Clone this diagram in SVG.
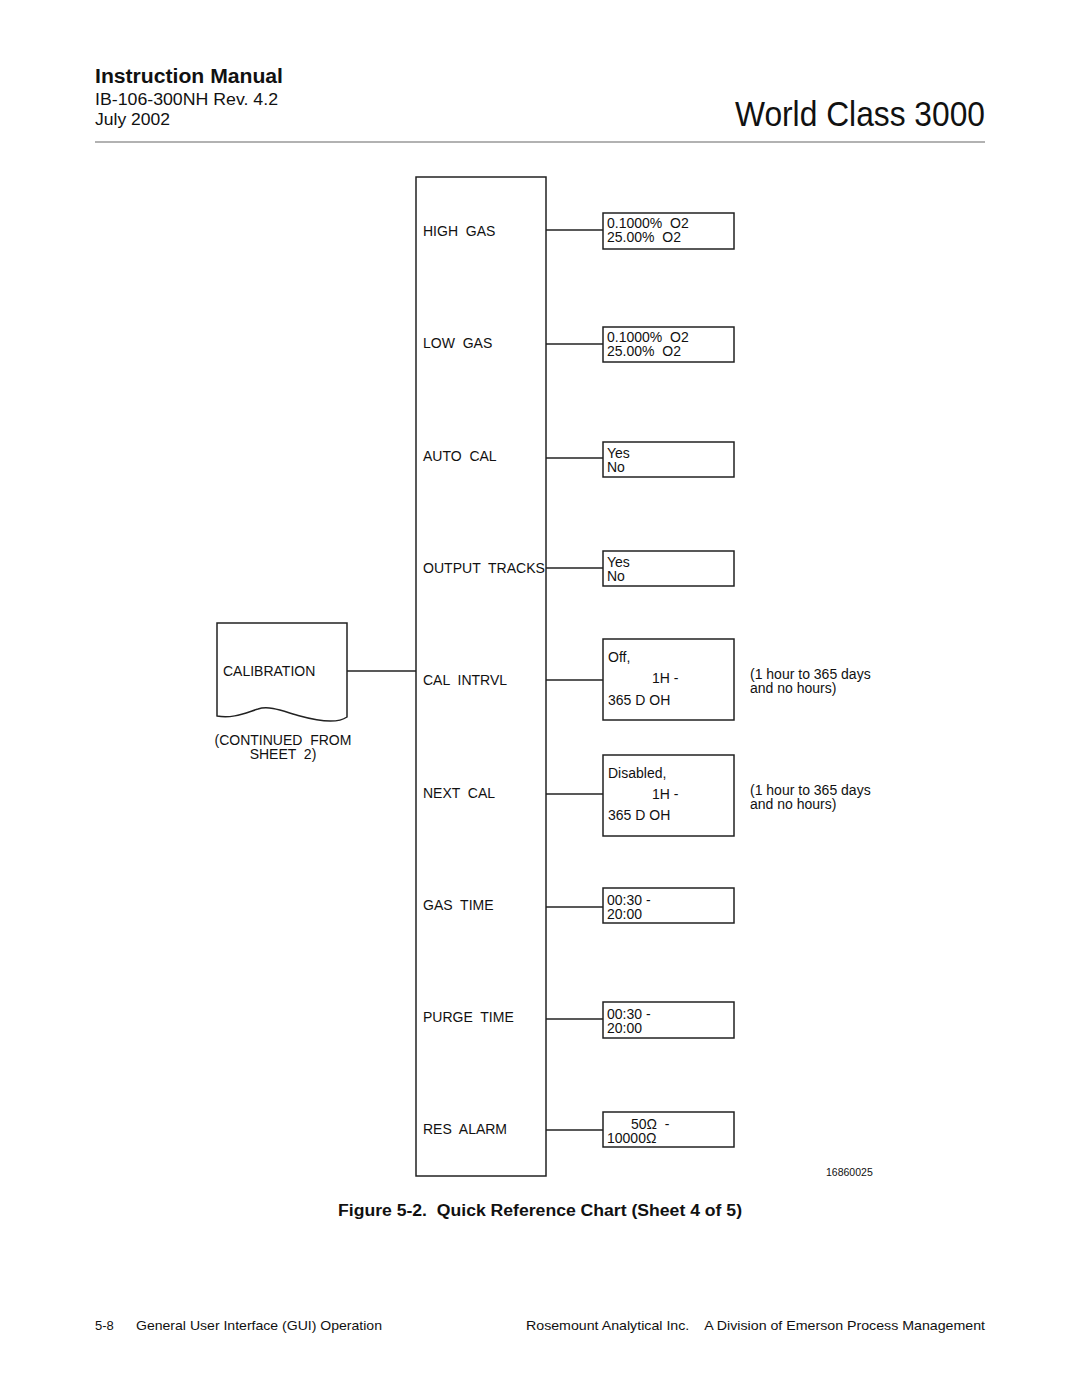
<svg xmlns="http://www.w3.org/2000/svg" width="1080" height="1397" viewBox="0 0 1080 1397">
<style>
text{font-family:"Liberation Sans",Arial,sans-serif;fill:#111;white-space:pre}
.lbl{font-size:14px}
.val{font-size:14px}
.note{font-size:14px}
.box{fill:#fff;stroke:#222;stroke-width:1.5}
.conn{stroke:#222;stroke-width:1.3;fill:none}
</style>
<rect width="1080" height="1397" fill="#fff"/>
<g id="header">
<text x="95" y="83" font-size="20" font-weight="bold" textLength="188" lengthAdjust="spacingAndGlyphs">Instruction Manual</text>
<text x="95" y="105" font-size="16" textLength="183" lengthAdjust="spacingAndGlyphs">IB-106-300NH Rev. 4.2</text>
<text x="95" y="125" font-size="16" textLength="75" lengthAdjust="spacingAndGlyphs">July 2002</text>
<text x="735" y="126" font-size="35" textLength="250" lengthAdjust="spacingAndGlyphs">World Class 3000</text>
<line x1="95" y1="142" x2="985" y2="142" stroke="#666" stroke-width="1.2"/>
</g>
<g id="connectors">
<line class="conn" x1="347" y1="671" x2="416" y2="671"/>
<line class="conn" x1="546" y1="230" x2="603" y2="230"/>
<line class="conn" x1="546" y1="344" x2="603" y2="344"/>
<line class="conn" x1="546" y1="458" x2="603" y2="458"/>
<line class="conn" x1="546" y1="568" x2="603" y2="568"/>
<line class="conn" x1="546" y1="680" x2="603" y2="680"/>
<line class="conn" x1="546" y1="794" x2="603" y2="794"/>
<line class="conn" x1="546" y1="907" x2="603" y2="907"/>
<line class="conn" x1="546" y1="1019" x2="603" y2="1019"/>
<line class="conn" x1="546" y1="1130" x2="603" y2="1130"/>
</g>
<g id="calibration">
<path class="box" d="M217,623 H347 V717 C337,724 318,721 300,716 C285,712 270,705 258,709 C245,713 232,719 217,716 Z"/>
<text class="lbl" x="223" y="676" font-size="13.5">CALIBRATION</text>
<text class="lbl" x="283" y="745" text-anchor="middle">(CONTINUED  FROM</text>
<text class="lbl" x="283" y="759" text-anchor="middle">SHEET  2)</text>
</g>
<g id="menu">
<rect class="box" x="416" y="177" width="130" height="999"/>
<text class="lbl" x="423" y="236">HIGH  GAS</text>
<text class="lbl" x="423" y="348">LOW  GAS</text>
<text class="lbl" x="423" y="461">AUTO  CAL</text>
<text class="lbl" x="423" y="573" textLength="122" lengthAdjust="spacingAndGlyphs">OUTPUT  TRACKS</text>
<text class="lbl" x="423" y="685">CAL  INTRVL</text>
<text class="lbl" x="423" y="798">NEXT  CAL</text>
<text class="lbl" x="423" y="910">GAS  TIME</text>
<text class="lbl" x="423" y="1022">PURGE  TIME</text>
<text class="lbl" x="423" y="1134">RES  ALARM</text>
</g>
<g id="v-highgas">
<rect class="box" x="603" y="213" width="131" height="36"/>
<text class="val" x="607" y="228">0.1000%  O2</text>
<text class="val" x="607" y="242">25.00%  O2</text>
</g>
<g id="v-lowgas">
<rect class="box" x="603" y="327" width="131" height="35"/>
<text class="val" x="607" y="342">0.1000%  O2</text>
<text class="val" x="607" y="356">25.00%  O2</text>
</g>
<g id="v-autocal">
<rect class="box" x="603" y="442" width="131" height="35"/>
<text class="val" x="607" y="458">Yes</text>
<text class="val" x="607" y="472">No</text>
</g>
<g id="v-output">
<rect class="box" x="603" y="551" width="131" height="35"/>
<text class="val" x="607" y="567">Yes</text>
<text class="val" x="607" y="581">No</text>
</g>
<g id="v-calintrvl">
<rect class="box" x="603" y="639" width="131" height="81"/>
<text class="val" x="608" y="662">Off,</text>
<text class="val" x="652" y="683">1H -</text>
<text class="val" x="608" y="705">365 D OH</text>
</g>
<g id="v-nextcal">
<rect class="box" x="603" y="755" width="131" height="81"/>
<text class="val" x="608" y="778">Disabled,</text>
<text class="val" x="652" y="799">1H -</text>
<text class="val" x="608" y="820">365 D OH</text>
</g>
<g id="notes">
<text class="note" x="750" y="679">(1 hour to 365 days</text>
<text class="note" x="750" y="693">and no hours)</text>
<text class="note" x="750" y="795">(1 hour to 365 days</text>
<text class="note" x="750" y="809">and no hours)</text>
</g>
<g id="v-gastime">
<rect class="box" x="603" y="888" width="131" height="35"/>
<text class="val" x="607" y="905">00:30 -</text>
<text class="val" x="607" y="919">20:00</text>
</g>
<g id="v-purgetime">
<rect class="box" x="603" y="1002" width="131" height="36"/>
<text class="val" x="607" y="1019">00:30 -</text>
<text class="val" x="607" y="1033">20:00</text>
</g>
<g id="v-resalarm">
<rect class="box" x="603" y="1112" width="131" height="35"/>
<text class="val" x="631" y="1129">50Ω  -</text>
<text class="val" x="607" y="1143">10000Ω</text>
</g>
<text x="826" y="1176" font-size="10.5">16860025</text>
<text x="540" y="1216" font-size="16" font-weight="bold" text-anchor="middle" textLength="404" lengthAdjust="spacingAndGlyphs">Figure 5-2.  Quick Reference Chart (Sheet 4 of 5)</text>
<g id="footer">
<text x="95" y="1330" font-size="13">5-8</text>
<text x="136" y="1330" font-size="13" textLength="246" lengthAdjust="spacingAndGlyphs">General User Interface (GUI) Operation</text>
<text x="526" y="1330" font-size="13" textLength="459" lengthAdjust="spacingAndGlyphs">Rosemount Analytical Inc.    A Division of Emerson Process Management</text>
</g>
</svg>
